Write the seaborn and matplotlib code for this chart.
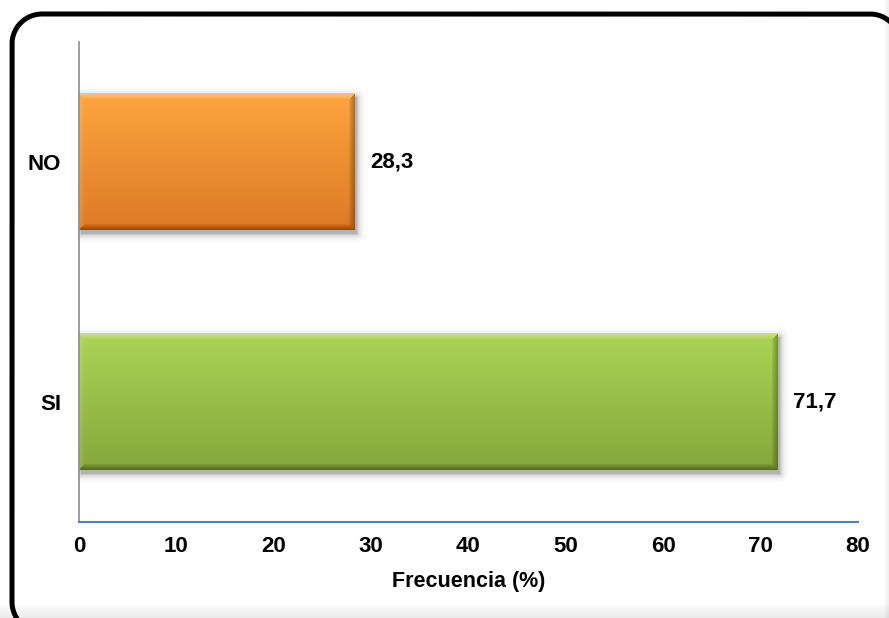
import numpy as np
import pandas as pd
import seaborn as sns
import matplotlib.pyplot as plt
from matplotlib.colors import to_rgb

categorias = ["NO", "SI"]
porcentajes = [28.3, 71.7]
etiquetas = ["28,3", "71,7"]
xticks = [0, 10, 20, 30, 40, 50, 60, 70, 80]

# top / bottom shades for each bar gradient
tonos = {
    "NO": ("#FCA53F", "#DD7A25"),
    "SI": ("#AAD455", "#86A73C"),
}

sns.set_theme(style="white")
plt.rcParams["font.family"] = ["Liberation Sans", "DejaVu Sans"]
plt.rcParams["font.weight"] = "bold"
plt.rcParams["text.color"] = "black"
plt.rcParams["xtick.color"] = "black"
plt.rcParams["ytick.color"] = "black"
plt.rcParams["axes.labelcolor"] = "black"

W, H = 889, 618
fig = plt.figure(figsize=(W / 100, H / 100), dpi=100)

# full-figure background axes in pixel units, used for the outer frame
bg = fig.add_axes([0, 0, 1, 1], zorder=-1)
bg.set_xlim(0, W)
bg.set_ylim(H, 0)
bg.axis("off")

ax = fig.add_axes([79 / W, 1 - 522 / H, (858 - 79) / W, (522 - 42) / H])
ax.patch.set_alpha(0)

df = pd.DataFrame({"cat": categorias, "pct": porcentajes})
sns.barplot(data=df, x="pct", y="cat", orient="h", ax=ax,
            color="#F79A3A", width=0.57, edgecolor="none", saturation=1)

ax.set_xlim(0, 80)
ax.set_ylim(1.5, -0.5)

px_x = (858 - 79) / 80.0   # pixels per data unit along x
px_y = (522 - 42) / 2.0    # pixels per data unit along y


def bevel_rgb(wp, hp, top, bot, b=6):
    """Vertical gradient with a bevelled rim (light top/left, dark bottom/right)."""
    top, bot = np.array(to_rgb(top)), np.array(to_rgb(bot))
    i = np.arange(hp)[:, None] * np.ones((1, wp))
    j = np.ones((hp, 1)) * np.arange(wp)[None, :]
    t = i / max(hp - 1, 1)
    img = top[None, None, :] * (1 - t[..., None]) + bot[None, None, :] * t[..., None]
    d = np.stack([i, hp - 1 - i, j, wp - 1 - j])
    edge = d.argmin(axis=0)
    f = np.clip(1 - d.min(axis=0) / b, 0, 1) ** 0.8
    light = np.array([1.0, 0.93, 0.7])
    amount = np.select([edge == 0, edge == 2, edge == 1, edge == 3],
                       [0.45 * f, 0.15 * f, -0.35 * f, -0.30 * f])
    pos = np.clip(amount, 0, None)[..., None]
    neg = np.clip(-amount, 0, None)[..., None]
    img = img * (1 - pos) + light[None, None, :] * pos
    img = img * (1 - neg)
    return np.clip(img, 0, 1)


for patch, cat in zip(ax.patches, categorias):
    x0, y0 = patch.get_x(), patch.get_y()
    w, h = patch.get_width(), patch.get_height()
    top, bot = tonos[cat]
    wp, hp = int(round(w * px_x)), int(round(h * px_y))

    # soft drop shadow, offset down and right
    m = 12
    sw, sh_ = wp + 2 * m, hp + 2 * m
    ii = np.arange(sh_)[:, None] - m - 4
    jj = np.arange(sw)[None, :] - m - 2
    dy = np.maximum(np.maximum(-ii, ii - (hp - 1)), 0)
    dx = np.maximum(np.maximum(-jj, jj - (wp - 1)), 0)
    dist = np.hypot(dx, dy)
    alpha = 0.30 * np.exp(-dist / 3.0) * (dist > 0) + 0.30 * (dist == 0)
    shadow = np.zeros((sh_, sw, 4))
    shadow[..., 3] = alpha
    ax.imshow(shadow, extent=(x0 - m / px_x, x0 + w + m / px_x,
                              y0 + h + m / px_y, y0 - m / px_y),
              aspect="auto", zorder=1.5, interpolation="bilinear")

    patch.set_visible(False)
    ax.imshow(bevel_rgb(wp, hp, top, bot), extent=(x0, x0 + w, y0 + h, y0),
              aspect="auto", zorder=2.5, interpolation="bilinear")

ax.set_xlim(0, 80)
ax.set_ylim(1.5, -0.5)

for yi, (val, txt) in enumerate(zip(porcentajes, etiquetas)):
    ax.text(val + 1.6, yi, txt, va="center", ha="left", fontsize=16,
            fontweight="bold", color="black")

ax.set_xticks(xticks)
ax.set_xticklabels([str(t) for t in xticks], fontsize=16, fontweight="bold")
ax.tick_params(axis="x", length=0, pad=10)
ax.tick_params(axis="y", length=0, pad=13, labelsize=16)
for lbl in ax.get_yticklabels():
    lbl.set_fontweight("bold")
ax.set_ylabel("")
ax.set_xlabel("Frecuencia (%)", fontsize=15.5, fontweight="bold", labelpad=10)

for s in ["top", "right"]:
    ax.spines[s].set_visible(False)
ax.spines["left"].set_color("#8C8C8C")
ax.spines["left"].set_linewidth(1.2)
ax.spines["bottom"].set_color("#4F81BD")
ax.spines["bottom"].set_linewidth(1.5)

# faint shading along the lower and right edges of the card
shade_b = np.linspace(0, 1, 16).reshape(-1, 1)
bg.imshow(np.dstack([np.zeros((16, 1, 3)), (0.08 * shade_b)[..., None]]),
          extent=(0, W, H, H - 16), aspect="auto", zorder=0,
          interpolation="bilinear")
shade_r = np.linspace(0, 1, 6).reshape(1, -1)
bg.imshow(np.dstack([np.zeros((1, 6, 3)), (0.06 * shade_r)[..., None]]),
          extent=(W - 6, W, H, 0), aspect="auto", zorder=0,
          interpolation="bilinear")

# rounded outer frame as a dense polyline, running off the right and bottom edges
fl, ft, fr, fb, r = 12, 14, 900, 632, 30


def arc(cx, cy, a0, a1, n=40):
    a = np.radians(np.linspace(a0, a1, n))
    return cx + r * np.cos(a), cy + r * np.sin(a)


pts_x, pts_y = [], []
for cx, cy, a0, a1 in [(fl + r, fb - r, 90, 180), (fl + r, ft + r, 180, 270),
                       (fr - r, ft + r, 270, 360), (fr - r, fb - r, 0, 90)]:
    xs, ys = arc(cx, cy, a0, a1)
    pts_x.extend(xs)
    pts_y.extend(ys)
pts_x.append(pts_x[0])
pts_y.append(pts_y[0])
bg.plot(pts_x, pts_y, color="black", lw=3.6, solid_joinstyle="round",
        solid_capstyle="round", zorder=1)

fig.savefig("out.png", dpi=100)
